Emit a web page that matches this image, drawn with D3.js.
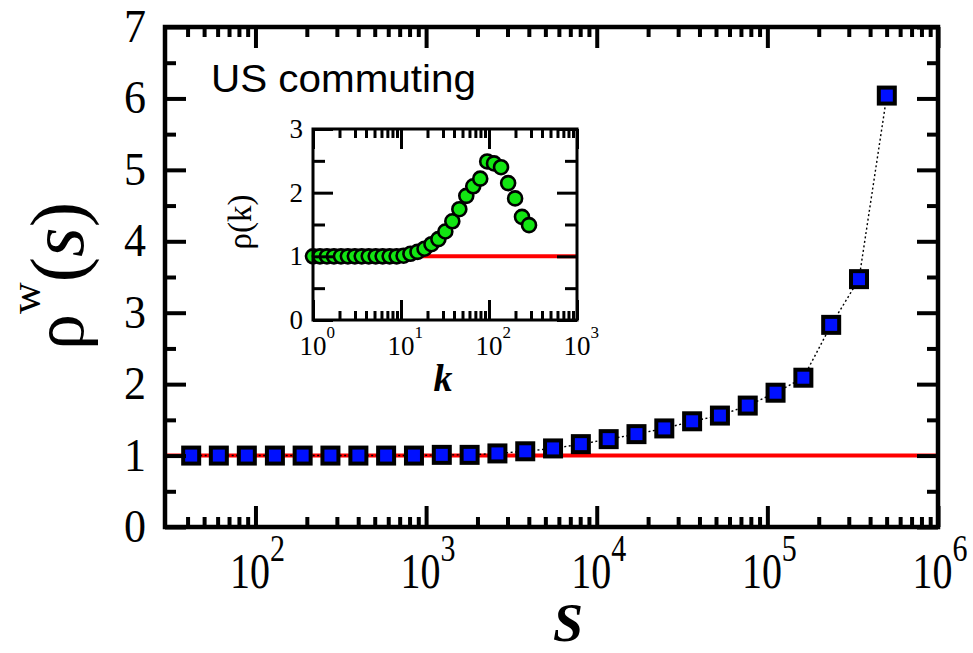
<!DOCTYPE html>
<html><head><meta charset="utf-8">
<script src="https://cdn.jsdelivr.net/npm/d3@7"></script>
<style>html,body{margin:0;padding:0;background:#fff;} svg{display:block;}</style>
</head><body>
<script>
// Weighted rich-club ratio versus strength s (main panel)
const sValues = [42, 61, 89, 130, 189, 275, 401, 583, 849, 1236, 1799, 2618, 3811, 5546,
                 8072, 11749, 17100, 24889, 36224, 52723, 76736, 111686, 162555, 236592, 344350, 501187];
const rhoW = [1.00, 1.00, 1.00, 1.00, 1.00, 1.00, 1.00, 1.00, 1.00, 1.01, 1.01, 1.03, 1.06, 1.10,
              1.16, 1.23, 1.30, 1.38, 1.48, 1.56, 1.70, 1.88, 2.09, 2.83, 3.47, 6.04];

// Unweighted rich-club ratio versus degree k (inset)
const kValues = [1.00, 1.20, 1.44, 1.73, 2.08, 2.49, 2.99, 3.58, 4.30, 5.16, 6.19, 7.43, 8.92, 10.7,
                 12.8, 15.4, 18.5, 22.2, 26.6, 31.9, 38.3, 46.0, 55.2, 66.2, 79.5, 95.4, 114, 137,
                 165, 198, 237, 285];
const rhoK = [1.00, 1.00, 1.00, 1.00, 1.00, 1.00, 1.00, 1.00, 1.00, 1.00, 1.00, 1.00, 1.00, 1.01,
              1.04, 1.07, 1.12, 1.19, 1.27, 1.39, 1.55, 1.74, 1.95, 2.10, 2.22, 2.49, 2.46, 2.40,
              2.15, 1.91, 1.62, 1.49];

const baseline = 1;   // uncorrelated reference level

const yTicksMain = [0, 1, 2, 3, 4, 5, 6, 7];
const yMinorMain = [0.5, 1.5, 2.5, 3.5, 4.5, 5.5, 6.5];
const xTicksMain = [1e2, 1e3, 1e4, 1e5, 1e6];
const xExpMain = ["2", "3", "4", "5", "6"];
const yTicksInset = [0, 1, 2, 3];
const yMinorInset = [0.5, 1.5, 2.5];
const xTicksInset = [1, 10, 100, 1000];
const xExpInset = ["0", "1", "2", "3"];

const W = 973, H = 653;
const serif = '"Liberation Serif","Times New Roman",Tinos,"Nimbus Roman","DejaVu Serif",serif';
const sans = '"Liberation Sans",Arial,Helvetica,sans-serif';

const svg = d3.select("body").append("svg").attr("width", W).attr("height", H);
svg.append("rect").attr("width", W).attr("height", H).attr("fill", "#fff");

function minorLog(scale, lo, hi) {
  const out = [];
  for (let e = lo; e <= hi; e++)
    for (let m = 2; m <= 9; m++) {
      const v = m * Math.pow(10, e);
      const d = scale.domain();
      if (v > d[0] * 1.15 && v < d[1]) out.push(v);
    }
  return out;
}

function tickAxis(parent, axisFn, scale, values, size, sw, tx, ty) {
  const g = parent.append("g").attr("transform", `translate(${tx},${ty})`)
    .call(axisFn(scale).tickValues(values).tickSize(size).tickFormat(""));
  g.select(".domain").remove();
  g.selectAll(".tick line").attr("stroke", "#000").attr("stroke-width", sw);
  return g;
}

// ---------- main panel ----------
const x = d3.scaleLog().domain([29.5, 1e6]).range([165, 938]);
const y = d3.scaleLinear().domain([0, 7]).range([527, 27]);
const main = svg.append("g");

main.append("line")
  .attr("x1", x.range()[0]).attr("x2", x.range()[1])
  .attr("y1", y(baseline)).attr("y2", y(baseline))
  .attr("stroke", "#ff0000").attr("stroke-width", 4);

const mainData = sValues.map((s, i) => ({ s, v: rhoW[i] }));
main.append("path").datum(mainData)
  .attr("fill", "none").attr("stroke", "#000").attr("stroke-width", 1.4)
  .attr("stroke-dasharray", "2,2.5")
  .attr("d", d3.line().x(d => x(d.s)).y(d => y(d.v)));

main.selectAll("rect.pt").data(mainData).join("rect").attr("class", "pt")
  .attr("x", d => x(d.s) - 8).attr("y", d => y(d.v) - 8)
  .attr("width", 16).attr("height", 16)
  .attr("fill", "#0010ff").attr("stroke", "#000").attr("stroke-width", 4);

const xMinorMain = minorLog(x, 1, 5);
[[d3.axisBottom, 0, 527], [d3.axisTop, 0, 27]].forEach(([fn, tx, ty]) => {
  tickAxis(main, fn, x, xTicksMain, -21, 4, tx, ty);
  tickAxis(main, fn, x, xMinorMain, -10, 4, tx, ty);
});
[[d3.axisLeft, 165, 0], [d3.axisRight, 938, 0]].forEach(([fn, tx, ty]) => {
  tickAxis(main, fn, y, yTicksMain, -21, 4, tx, ty);
  tickAxis(main, fn, y, yMinorMain, -11, 4, tx, ty);
});

main.append("rect").attr("x", 165).attr("y", 27).attr("width", 773).attr("height", 500)
  .attr("fill", "none").attr("stroke", "#000").attr("stroke-width", 4.5);

// y tick labels
main.selectAll("text.yl").data(yTicksMain).join("text").attr("class", "yl")
  .attr("transform", d => `translate(146,${y(d) + 15}) scale(1,1.05)`)
  .attr("text-anchor", "end").attr("font-family", serif).attr("font-size", 44)
  .text(d => d);

// x tick labels (powers of ten)
xTicksMain.forEach((v, i) => {
  const t = main.append("text")
    .attr("transform", `translate(${x(v) + 2},588) scale(1,1.25)`)
    .attr("text-anchor", "middle").attr("font-family", serif);
  t.append("tspan").attr("font-size", 40).text("10");
  t.append("tspan").attr("font-size", 30).attr("dy", -22).text(xExpMain[i]);
});

// axis titles
main.append("text").attr("x", 568).attr("y", 641)
  .attr("text-anchor", "middle").attr("font-family", serif)
  .attr("font-style", "italic").attr("font-weight", "bold").attr("font-size", 54)
  .text("S");

const yl = main.append("text")
  .attr("transform", "translate(83,276) rotate(-90)")
  .attr("text-anchor", "middle").attr("font-family", serif);
yl.append("tspan").attr("font-size", 72).text("ρ");
yl.append("tspan").attr("font-size", 44).attr("dy", -43).text("w");
yl.append("tspan").attr("font-size", 76).attr("dy", 43).text("(");
yl.append("tspan").attr("font-size", 76).attr("font-style", "italic").text("s");
yl.append("tspan").attr("font-size", 76).text(")");

main.append("text").attr("x", 211).attr("y", 92)
  .attr("font-family", sans).attr("font-size", 38)
  .attr("textLength", 265).attr("lengthAdjust", "spacingAndGlyphs")
  .text("US commuting");

// ---------- inset ----------
const xi = d3.scaleLog().domain([1, 1000]).range([313, 577]);
const yi = d3.scaleLinear().domain([0, 3]).range([320, 129]);
const inset = svg.append("g");

inset.append("rect").attr("x", 313).attr("y", 129).attr("width", 264).attr("height", 191)
  .attr("fill", "#fff");

inset.append("line")
  .attr("x1", xi.range()[0]).attr("x2", xi.range()[1])
  .attr("y1", yi(baseline)).attr("y2", yi(baseline))
  .attr("stroke", "#ff0000").attr("stroke-width", 4);

const insetData = kValues.map((k, i) => ({ k, v: rhoK[i] }));
inset.selectAll("circle").data(insetData).join("circle")
  .attr("cx", d => xi(d.k)).attr("cy", d => yi(d.v)).attr("r", 7)
  .attr("fill", "#12e612").attr("stroke", "#000").attr("stroke-width", 2.6);

const xMinorInset = minorLog(xi, 0, 2);
[[d3.axisBottom, 0, 320], [d3.axisTop, 0, 129]].forEach(([fn, tx, ty]) => {
  tickAxis(inset, fn, xi, xTicksInset, -20, 3, tx, ty);
  tickAxis(inset, fn, xi, xMinorInset, -9, 3, tx, ty);
});
[[d3.axisLeft, 313, 0], [d3.axisRight, 577, 0]].forEach(([fn, tx, ty]) => {
  tickAxis(inset, fn, yi, yTicksInset, -20, 3, tx, ty);
  tickAxis(inset, fn, yi, yMinorInset, -12, 3, tx, ty);
});

inset.append("rect").attr("x", 313).attr("y", 129).attr("width", 264).attr("height", 191)
  .attr("fill", "none").attr("stroke", "#000").attr("stroke-width", 3);

inset.selectAll("text.yl").data(yTicksInset).join("text").attr("class", "yl")
  .attr("x", 303).attr("y", d => yi(d) + 9)
  .attr("text-anchor", "end").attr("font-family", serif).attr("font-size", 27)
  .text(d => d);

xTicksInset.forEach((v, i) => {
  const t = inset.append("text").attr("x", xi(v) - 13.5).attr("y", 355)
    .attr("font-family", serif);
  t.append("tspan").attr("font-size", 27).text("10");
  t.append("tspan").attr("font-size", 17).attr("dy", -17).text(xExpInset[i]);
});

inset.append("text").attr("x", 443).attr("y", 391)
  .attr("text-anchor", "middle").attr("font-family", serif)
  .attr("font-style", "italic").attr("font-weight", "bold").attr("font-size", 38)
  .text("k");

inset.append("text")
  .attr("transform", "translate(251,222) rotate(-90)")
  .attr("text-anchor", "middle").attr("font-family", serif).attr("font-size", 33)
  .text("ρ(k)");
</script>
</body></html>
